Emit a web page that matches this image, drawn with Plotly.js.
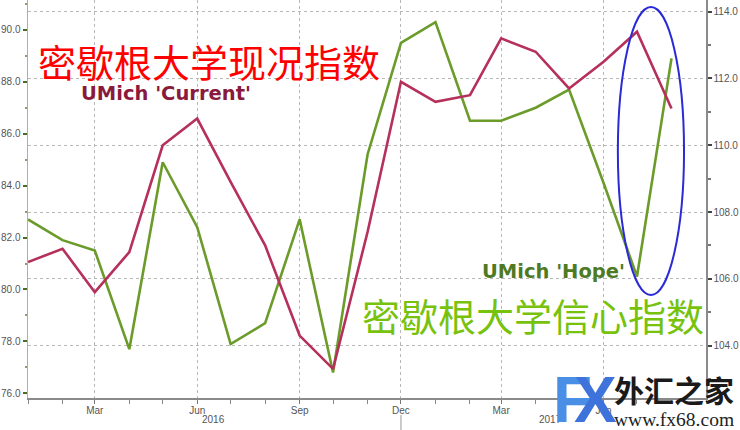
<!DOCTYPE html>
<html>
<head>
<meta charset="utf-8">
<script src="https://cdn.plot.ly/plotly-3.0.1.min.js"></script>
<style>
  html, body { margin: 0; padding: 0; background: #ffffff; }
  #chart { width: 740px; height: 430px; }
</style>
</head>
<body>
<div id="chart"></div>
<script>
// Months (monthly observations, Jan 2016 – Aug 2017)
const months = [
  '2016-01-01','2016-02-01','2016-03-01','2016-04-01','2016-05-01','2016-06-01',
  '2016-07-01','2016-08-01','2016-09-01','2016-10-01','2016-11-01','2016-12-01',
  '2017-01-01','2017-02-01','2017-03-01','2017-04-01','2017-05-01','2017-06-01',
  '2017-07-01','2017-08-01'
];
// UMich 'Hope' (expectations) – left axis
const hopeValues = [82.7, 81.9, 81.5, 77.7, 84.9, 82.4, 77.9, 78.7, 82.7, 76.8,
                    85.2, 89.5, 90.3, 86.5, 86.5, 87.0, 87.7, 84.1, 80.5, 88.9];
// UMich 'Current' (current conditions) – right axis
const currentValues = [106.5, 106.9, 105.6, 106.8, 110.0, 110.8, 108.9, 107.0, 104.3, 103.3,
                       107.4, 111.9, 111.3, 111.5, 113.2, 112.8, 111.7, 112.5, 113.4, 111.1];

const xTickVals = ['2016-03-01','2016-06-01','2016-09-01','2016-12-01','2017-03-01','2017-06-01'];
const xTickText = ['Mar','Jun','Sep','Dec','Mar','Jun'];
const yearLabels = ['2016','2017'];

const titleCurrentCN = '密歇根大学现况指数';
const titleHopeCN = '密歇根大学信心指数';
const labelCurrent = "UMich 'Current'";
const labelHope = "UMich 'Hope'";

const tickFont = {family: 'Liberation Sans, Arial, sans-serif', size: 10, color: '#555555'};

const traces = [
  {
    x: months, y: currentValues, yaxis: 'y2', type: 'scatter', mode: 'lines',
    line: {color: '#b5305a', width: 2.6}, hoverinfo: 'skip'
  },
  {
    x: months, y: hopeValues, yaxis: 'y', type: 'scatter', mode: 'lines',
    line: {color: '#6b9b2a', width: 2.6}, hoverinfo: 'skip'
  }
];

const layout = {
  width: 740, height: 430,
  margin: {l: 28, r: 34, t: 0, b: 32, pad: 0},
  paper_bgcolor: '#ffffff', plot_bgcolor: '#ffffff',
  showlegend: false,
  xaxis: {
    type: 'date',
    range: ['2016-01-01', '2017-09-01'],
    tickmode: 'array', tickvals: xTickVals, ticktext: xTickText,
    ticks: 'outside', ticklen: 4, tickcolor: '#777777', tickwidth: 1,
    ticklabelstandoff: -2,
    tickfont: tickFont,
    showgrid: true, gridcolor: '#b8b8b8', griddash: 'dot', gridwidth: 1,
    showline: true, linecolor: '#8a8a8a', linewidth: 1.5,
    zeroline: false,
    minor: {dtick: 'M1', tick0: '2016-01-01', ticks: 'outside', ticklen: 4, tickcolor: '#888888', showgrid: false}
  },
  yaxis: {
    range: [75.82, 91.15],
    side: 'left',
    dtick: 2, tick0: 76, tickformat: '.1f',
    ticks: 'outside', ticklen: 4, tickwidth: 2, tickcolor: '#4f6a22',
    tickfont: tickFont,
    showgrid: false, zeroline: false,
    showline: true, linecolor: '#a8bb7c', linewidth: 1.5,
    minor: {dtick: 1, ticks: 'outside', ticklen: 2, tickcolor: '#8a9a6a', showgrid: false}
  },
  yaxis2: {
    range: [102.43, 114.35],
    overlaying: 'y', side: 'right',
    dtick: 2, tick0: 104, tickformat: '.1f',
    ticks: 'outside', ticklen: 4, tickwidth: 2, tickcolor: '#444444',
    tickfont: tickFont,
    showgrid: true, gridcolor: '#b8b8b8', griddash: 'dot', gridwidth: 1,
    zeroline: false,
    showline: true, linecolor: '#8a8a8a', linewidth: 1.5,
    minor: {dtick: 1, ticks: 'outside', ticklen: 3, tickcolor: '#777777', showgrid: false}
  },
  shapes: [
    {type: 'circle', xref: 'paper', yref: 'paper',
     x0: 0.870, x1: 0.9676, y0: 0.2588, y1: 0.9824,
     line: {color: '#2a2ad6', width: 2}},
    {type: 'line', xref: 'x', yref: 'paper',
     x0: '2016-12-01', x1: '2016-12-01', y0: -0.043, y1: -0.085,
     line: {color: '#999999', width: 1}}
  ],
  annotations: [
    {text: yearLabels[0], xref: 'x', yref: 'paper', x: '2016-06-16', y: -0.055,
     xanchor: 'center', yanchor: 'middle', showarrow: false, font: tickFont},
    {text: yearLabels[1], xref: 'x', yref: 'paper', x: '2017-04-14', y: -0.055,
     xanchor: 'center', yanchor: 'middle', showarrow: false, font: tickFont},
    {text: titleCurrentCN, xref: 'paper', yref: 'paper', x: 0.0125, y: 0.849,
     xanchor: 'left', yanchor: 'middle', showarrow: false,
     font: {family: 'Noto Sans CJK SC', size: 38, color: '#ff0000'}},
    {text: '<b>' + labelCurrent + '</b>', xref: 'paper', yref: 'paper', x: 0.0745, y: 0.766,
     xanchor: 'left', yanchor: 'middle', showarrow: false,
     font: {family: 'DejaVu Sans', size: 19.5, color: '#8a1a3c'}},
    {text: '<b>' + labelHope + '</b>', xref: 'paper', yref: 'paper', x: 0.6667, y: 0.3166,
     xanchor: 'left', yanchor: 'middle', showarrow: false,
     font: {family: 'DejaVu Sans', size: 19.5, color: '#4f7a24'}},
    {text: titleHopeCN, xref: 'paper', yref: 'paper', x: 0.489, y: 0.211,
     xanchor: 'left', yanchor: 'middle', showarrow: false,
     font: {family: 'Noto Sans CJK SC', size: 38, color: '#77c20c'}},
    // watermark logo
    {text: '<b>F</b>', xref: 'paper', yref: 'paper', x: (551 - 28) / 678, y: (398 - 400) / 398,
     xanchor: 'left', yanchor: 'middle', showarrow: false,
     font: {family: 'Liberation Sans', size: 64, color: '#4a8fe6'}},
    {text: '<b>X</b>', xref: 'paper', yref: 'paper', x: (572 - 28) / 678, y: (398 - 400) / 398,
     xanchor: 'left', yanchor: 'middle', showarrow: false,
     font: {family: 'Liberation Sans', size: 64, color: '#3f73dc'}},
    {text: '<b>外汇之家</b>', xref: 'paper', yref: 'paper', x: (612 - 28) / 678, y: (398 - 389) / 398,
     xanchor: 'left', yanchor: 'middle', showarrow: false,
     font: {family: 'Noto Sans CJK SC', size: 30, color: '#1a1a1a'}},
    {text: 'www.fx68.com', xref: 'paper', yref: 'paper', x: (612 - 28) / 678, y: (398 - 419) / 398,
     xanchor: 'left', yanchor: 'middle', showarrow: false,
     font: {family: 'Liberation Serif', size: 19.5, color: '#222222'}}
  ]
};

Plotly.newPlot('chart', traces, layout, {staticPlot: true, displayModeBar: false});
</script>
</body>
</html>
